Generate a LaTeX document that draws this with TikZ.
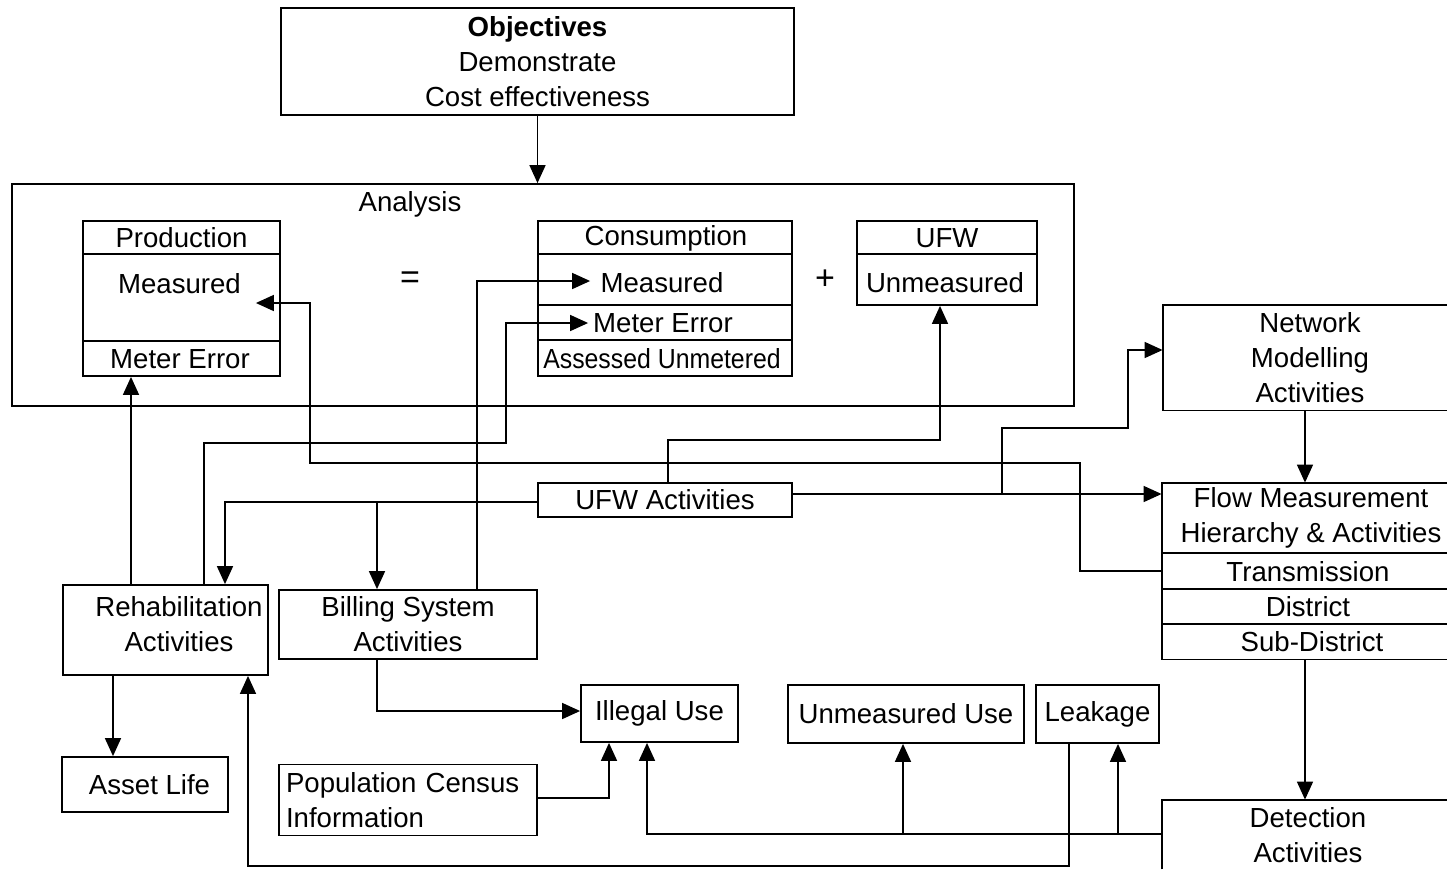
\documentclass[tikz,border=0pt]{standalone}
\usepackage{fontspec}
\setmainfont{Liberation Sans}
\usepackage{graphicx}
\usetikzlibrary{arrows.meta,calc}
\newcommand\dfont{\fontsize{13.8}{17.5}\selectfont}
\begin{document}
\begin{tikzpicture}[x=0.5pt,y=-0.5pt,
  box/.style={draw,line width=0.9pt,inner sep=0pt,align=center,font=\dfont},
  openbox/.style={inner sep=0pt},
  txt/.style={inner sep=0pt,align=center,font=\dfont},
  edge/.style={line width=0.9pt},
  conn/.style={line width=0.8pt},
  arr/.style={conn,-{Triangle[length=9pt,width=8pt]}}]
\fill[white] (0,0) rectangle (1447,869);
\useasboundingbox (0,0) rectangle (1447,869);

% boxes
\node[box,minimum width=256.5pt,minimum height=53.5pt] (obj) at (537.5,61.5)
  {\textbf{Objectives}\\Demonstrate\\Cost effectiveness};
\node[box,minimum width=531pt,minimum height=111pt] (analysis) at (543,295) {};
\node[txt] (analysislbl) at (410,204) {Analysis};

\node[box,minimum width=98.5pt,minimum height=77.5pt] (prod) at (181.5,298.5) {};
\draw[edge] (prod.west |- 0,254) -- (prod.east |- 0,254);
\draw[edge] (prod.west |- 0,341) -- (prod.east |- 0,341);
\node[txt] (prodh) at (181.5,238) {Production};
\node[txt] (prodm) at (179.5,284) {Measured};
\node[txt] (prode) at (180,359) {Meter Error};

\node[txt,font=\fontsize{17}{20}\selectfont] (eq) at (410,280) {=};

\node[box,minimum width=127pt,minimum height=77.5pt] (cons) at (665,298.5) {};
\draw[edge] (cons.west |- 0,254) -- (cons.east |- 0,254);
\draw[edge] (cons.west |- 0,305) -- (cons.east |- 0,305);
\draw[edge] (cons.west |- 0,340) -- (cons.east |- 0,340);
\node[txt] (consh) at (666,238) {Consumption};
\node[txt] (consm) at (662,283) {Measured};
\node[txt] (conse) at (663,323) {Meter Error};
\node[txt] (consa) at (662,359) {\scalebox{0.9}[1]{Assessed Unmetered}};

\node[txt,font=\fontsize{17}{20}\selectfont] (plus) at (825,280) {+};

\node[box,minimum width=90pt,minimum height=42pt] (ufw) at (947,263) {};
\draw[edge] (ufw.west |- 0,254) -- (ufw.east |- 0,254);
\node[txt] (ufwh) at (947,238) {UFW};
\node[txt] (ufwm) at (945,283) {Unmeasured};

\node[openbox,minimum width=142pt,minimum height=52.5pt] (net) at (1305,357.5) {};
\draw[edge] (net.north east) -- (net.north west) -- (net.south west) -- (net.south east);
\node[txt] (nettxt) at (1310,357.5) {Network\\Modelling\\Activities};

\node[openbox,minimum width=142.5pt,minimum height=88pt] (flow) at (1304.5,571) {};
\draw[edge] (flow.north east) -- (flow.north west) -- (flow.south west) -- (flow.south east);
\draw[edge] (flow.west |- 0,553) -- (flow.east |- 0,553);
\draw[edge] (flow.west |- 0,589) -- (flow.east |- 0,589);
\draw[edge] (flow.west |- 0,624) -- (flow.east |- 0,624);
\node[txt] (flowh) at (1311,517.5) {Flow Measurement\\Hierarchy \& Activities};
\node[txt] (flowt) at (1308,572) {Transmission};
\node[txt] (flowd) at (1308,607) {District};
\node[txt] (flows) at (1312,642) {Sub-District};

\node[box,minimum width=127pt,minimum height=17pt] (ufwact) at (665,500) {UFW Activities};

\node[box,minimum width=102.5pt,minimum height=45pt,
  label={[txt,xshift=6.75pt,yshift=2.75pt]center:Rehabilitation\\Activities}] (rehab) at (165.5,630) {};
\node[box,minimum width=129pt,minimum height=34.5pt] (billing) at (408,624.5) {Billing System\\Activities};

\node[box,minimum width=78.5pt,minimum height=28.5pt] (illegal) at (659.5,713.5) {Illegal Use};
\node[box,minimum width=118pt,minimum height=29pt] (unmuse) at (906,714) {Unmeasured Use};
\node[box,minimum width=61.5pt,minimum height=29pt] (leak) at (1097.5,714) {Leakage};

\node[box,minimum width=83pt,minimum height=27.5pt,
  label={[txt,xshift=2.25pt]center:Asset Life}] (asset) at (145,784.5) {};
\node[box,text width=122pt,inner xsep=3.5pt,minimum height=35.5pt,align=left] (pop) at (408,800)
  {Population Census\\Information};

\node[openbox,minimum width=142.5pt,minimum height=34.5pt] (det) at (1304.5,834.5) {};
\draw[edge] (det.south west) -- (det.north west) -- (det.north east);
\node[txt] (dettxt) at (1308,835.5) {Detection\\Activities};

% connectors
\draw[arr] (obj.south) -- (obj.south |- analysis.north);
\draw[arr] (rehab.north -| 131,0) -- (prod.south -| 131,0);
\draw[arr] (flow.west |- 0,571) -| (1080,463) -| (310,303) -- ($(prod.east |- 0,303)+(-25,0)$);
\draw[arr] (rehab.north -| 204,0) |- (506,443) |- ($(cons.west |- 0,323)+(51,0)$);
\draw[arr] (billing.north -| 477,0) |- ($(cons.west |- 0,281)+(53,0)$);
\draw[arr] (ufwact.north -| 668,0) |- (940,440) -- (ufw.south -| 940,0);
\draw[arr] (ufwact.west |- 0,502) -| (rehab.north -| 225,0);
\coordinate (jb) at (377,502);
\draw[arr] (jb) -- (billing.north -| 377,0);
\draw[arr] (ufwact.east |- 0,494) -- (flow.west |- 0,494);
\coordinate (jn) at (1002,494);
\draw[arr] (jn) |- (1128,428) |- (net.west |- 0,350);
\draw[arr] (net.south -| 1305,0) -- (flow.north -| 1305,0);
\draw[arr] (flow.south -| 1305,0) -- (det.north -| 1305,0);
\draw[arr] (billing.south -| 377,0) |- (illegal.west |- 0,711);
\draw[arr] (pop.east |- 0,798) -| (illegal.south -| 609,0);
\draw[arr] (det.west |- 0,834) -| (illegal.south -| 647,0);
\coordinate (ju) at (903,834);
\draw[arr] (ju) -- (unmuse.south -| 903,0);
\coordinate (jl) at (1118,834);
\draw[arr] (jl) -- (leak.south -| 1118,0);
\draw[arr] (leak.south -| 1069,0) |- (248,866) -- (rehab.south -| 248,0);
\draw[arr] (rehab.south -| 113,0) -- (asset.north -| 113,0);
\end{tikzpicture}
\end{document}
